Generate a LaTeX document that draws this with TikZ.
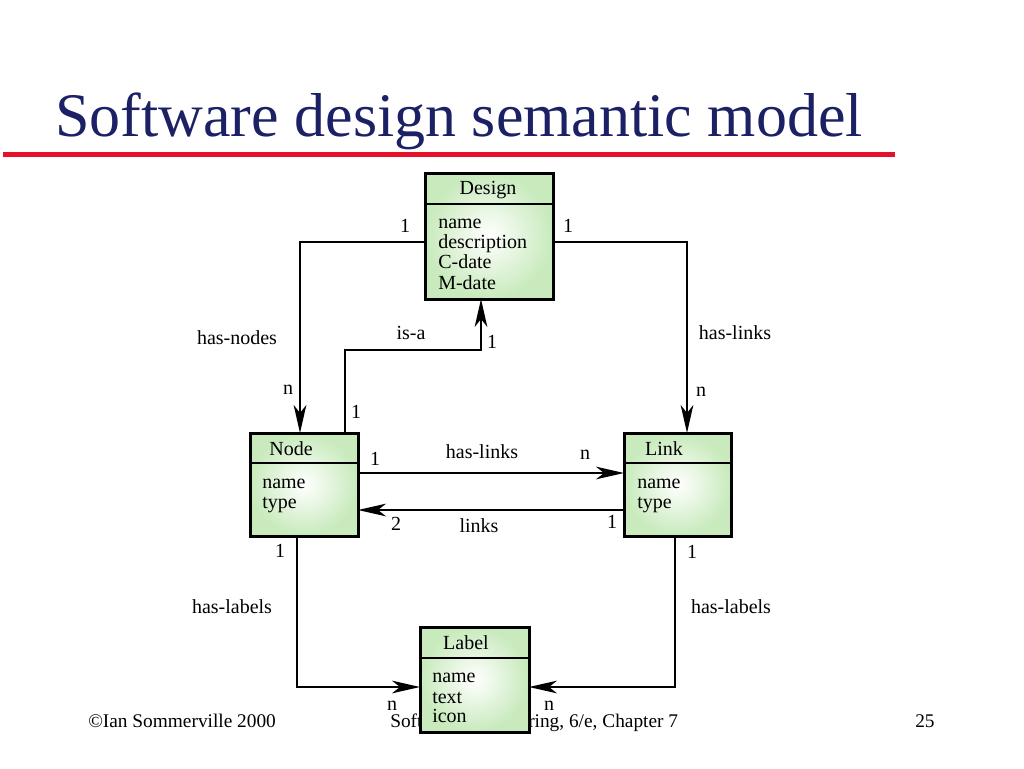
\documentclass[tikz,border=0pt]{standalone}
\usepackage{fontspec}
\setmainfont{Liberation Serif}
\usetikzlibrary{calc,arrows.meta}
\definecolor{titleblue}{RGB}{28,32,100}
\definecolor{rulered}{RGB}{230,16,40}
\definecolor{boxgreen}{RGB}{200,234,188}
\tikzset{
  umlbox/.style={draw, line width=2.25pt, outer sep=0pt, inner sep=0pt, shading=radial, inner color=white, outer color=boxgreen},
  divider/.style={line width=1.6pt},
  lbl/.style={font=\fontsize{15}{18}\selectfont, inner sep=0pt},
  attr/.style={font=\fontsize{15}{18}\selectfont, inner sep=0pt, anchor=base west},
  conn/.style={line width=1.5pt},
  arr/.style={conn, -{Stealth[length=21pt, width=9.5pt, inset=6pt]}},
  foot/.style={font=\fontsize{14.5}{17}\selectfont, inner sep=0pt, anchor=base west}
}
\begin{document}
\begin{tikzpicture}[x=0.75pt, y=-0.75pt]
\useasboundingbox[fill=white] (0,0) rectangle (1024,768);
% title
\node[font=\fontsize{46.5}{50}\selectfont, text=titleblue, inner sep=0pt, anchor=base west] (title) at (55,136) {Software design semantic model};
\draw[rulered, line width=3.75pt] (3,154) -- (895,154);
% footer
\node[foot] (f1) at (88,727) {\textcopyright Ian Sommerville 2000};
\node[foot] (f2) at (390,727) {Software Engineering, 6/e, Chapter 7};
\node[foot] (f3) at (915,727) {25};
% boxes
\node[umlbox, minimum width=96pt, minimum height=94.5pt] (design) at (489,236) {};
\draw[divider] ($(design.north west)+(0,31)$) -- ($(design.north east)+(0,31)$);
\node[lbl] (designT) at (488,190) {Design};
\node[attr] (d1) at (438,228) {name};
\node[attr] (d2) at (438,248) {description};
\node[attr] (d3) at (438,268) {C-date};
\node[attr] (d4) at (438,289) {M-date};

\node[umlbox, minimum width=81pt, minimum height=77.25pt] (node) at (304,484.5) {};
\draw[divider] ($(node.north west)+(0,30)$) -- ($(node.north east)+(0,30)$);
\node[lbl] (nodeT) at (291,449) {Node};
\node[attr] (n1) at (262,488) {name};
\node[attr] (n2) at (262,508) {type};

\node[umlbox, minimum width=80.25pt, minimum height=77.25pt] (link) at (677.5,484.5) {};
\draw[divider] ($(link.north west)+(0,30)$) -- ($(link.north east)+(0,30)$);
\node[lbl] (linkT) at (664,449) {Link};
\node[attr] (l1) at (637,488) {name};
\node[attr] (l2) at (637,508) {type};

\node[umlbox, minimum width=81.75pt, minimum height=78.75pt] (label) at (474.5,679.5) {};
\draw[divider] ($(label.north west)+(0,31)$) -- ($(label.north east)+(0,31)$);
\node[lbl] (labelT) at (466,643) {Label};
\node[attr] (b1) at (432,682) {name};
\node[attr] (b2) at (432,703) {text};
\node[attr] (b3) at (432,722) {icon};

% connectors
\draw[arr] ($(design.west)+(0,6)$) -| ($(node.north)+(-4,0)$);
\draw[arr] ($(design.east)+(0,6)$) -| ($(link.north)+(9.5,0)$);
\draw[arr] ($(node.north)+(41,0)$) |- ($(design.south)+(-8,51)$) -- ($(design.south)+(-8,0)$);
\draw[arr] ($(node.east)+(0,-11.5)$) -- ($(link.west)+(0,-11.5)$);
\draw[arr] ($(link.west)+(0,25.5)$) -- ($(node.east)+(0,25.5)$);
\draw[arr] ($(node.south)+(-7,0)$) |- ($(label.west)+(0,7.5)$);
\draw[arr] ($(link.south)+(-2.5,0)$) |- ($(label.east)+(0,7.5)$);

% connector labels
\node[lbl] (c1) at (405,226) {1};
\node[lbl] (c2) at (568,226) {1};
\node[lbl] (c3) at (237,338) {has-nodes};
\node[lbl] (c4) at (288,390) {n};
\node[lbl] (c5) at (735,333) {has-links};
\node[lbl] (c6) at (701,392) {n};
\node[lbl] (c7) at (411,333) {is-a};
\node[lbl] (c8) at (492,342) {1};
\node[lbl] (c9) at (356,412) {1};
\node[lbl] (c10) at (375,459) {1};
\node[lbl] (c11) at (482,452) {has-links};
\node[lbl] (c12) at (585,455) {n};
\node[lbl] (c13) at (396,524) {2};
\node[lbl] (c14) at (479,526) {links};
\node[lbl] (c15) at (612,522) {1};
\node[lbl] (c16) at (280,551) {1};
\node[lbl] (c17) at (232,607) {has-labels};
\node[lbl] (c18) at (392,706) {n};
\node[lbl] (c19) at (692,552) {1};
\node[lbl] (c20) at (731,607) {has-labels};
\node[lbl] (c21) at (549,706) {n};
\end{tikzpicture}
\end{document}
